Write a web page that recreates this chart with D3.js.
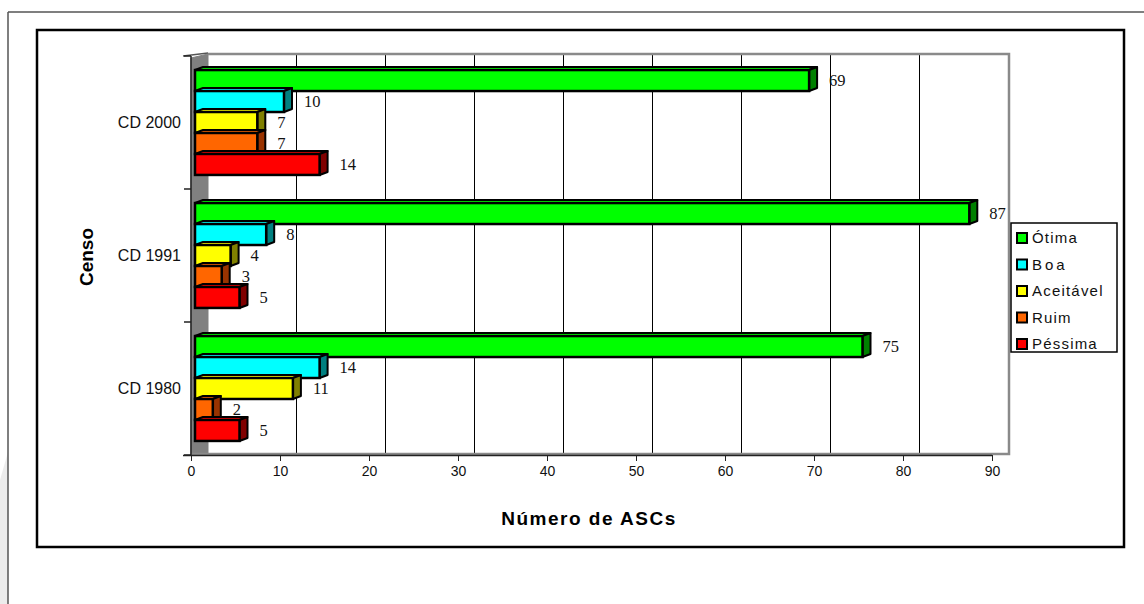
<!DOCTYPE html>
<html>
<head>
<meta charset="utf-8">
<script src="https://cdn.jsdelivr.net/npm/d3@7"></script>
<style>
html,body{margin:0;padding:0;background:#fff;}
svg{display:block;}
</style>
</head>
<body>
<svg id="chart" width="1144" height="604"></svg>
<script>
// ---- data ----
const categories = ["CD 2000", "CD 1991", "CD 1980"];
const seriesNames = ["Ótima", "Boa", "Aceitável", "Ruim", "Péssima"];
const otima    = [69, 87, 75];
const boa      = [10, 8, 14];
const aceitavel= [7, 4, 11];
const ruim     = [7, 3, 2];
const pessima  = [14, 5, 5];
const xTicks = [0,10,20,30,40,50,60,70,80,90];
const xTitle = "Número de ASCs";
const yTitle = "Censo";

const seriesValues = [otima, boa, aceitavel, ruim, pessima];
const frontColors = ["#00FF00","#00FFFF","#FFFF00","#FF6600","#FF0000"];
const sideColors  = ["#008000","#008080","#808000","#993300","#800000"];

const svg = d3.select("#chart");
const sans = "'Liberation Sans', Arial, sans-serif";
const serif = "'Liberation Serif', 'Times New Roman', serif";

// outer page frame
svg.append("polygon").attr("points","0,480 8,452 8,604 0,604").attr("fill","#ececec");
svg.append("line").attr("x1",8).attr("y1",12).attr("x2",1144).attr("y2",12).attr("stroke","#555").attr("stroke-width",1.5);
svg.append("line").attr("x1",8).attr("y1",12).attr("x2",8).attr("y2",604).attr("stroke","#555").attr("stroke-width",1.5);

// chart frame
svg.append("rect").attr("x",37).attr("y",30).attr("width",1087).attr("height",517)
  .attr("fill","#fff").attr("stroke","#000").attr("stroke-width",2.5);

const x = d3.scaleLinear().domain([0,90]).range([191,992]);
const y = d3.scaleBand().domain(categories).range([56,455]);
const ys = d3.scaleBand().domain(seriesNames).range([0,y.bandwidth()]).paddingOuter(0.67).paddingInner(0);

const wallDX = 17, wallTop = 54, wallBottom = 454;
const frontShift = 4;
const dX = 8, dY = -3;

// side wall (left)
svg.append("polygon")
  .attr("points",`${x(0)},${wallTop+4} ${x(0)+wallDX},${wallTop} ${x(0)+wallDX},${wallBottom} ${x(0)},${wallBottom+1}`)
  .attr("fill","#808080").attr("stroke","#808080");

// gridlines on back wall
svg.append("g").selectAll("line").data(xTicks.filter(t=>t>0 && t<90)).join("line")
  .attr("x1",d=>Math.round(x(d)+wallDX)-0.5).attr("x2",d=>Math.round(x(d)+wallDX)-0.5)
  .attr("y1",wallTop).attr("y2",wallBottom)
  .attr("stroke","#000").attr("stroke-width",1.2).attr("shape-rendering","crispEdges");

// back wall border
svg.append("path")
  .attr("d",`M${x(0)+wallDX},${wallTop} H${x(90)+wallDX} V${wallBottom} H${x(0)}`)
  .attr("fill","none").attr("stroke","#8a8a8a").attr("stroke-width",2.5);
svg.append("line").attr("x1",x(0)-8).attr("y1",wallTop+2).attr("x2",x(0)+wallDX).attr("y2",wallTop-1)
  .attr("stroke","#555").attr("stroke-width",1.5);

// x axis
const xAxis = d3.axisBottom(x).tickValues(xTicks).tickSize(6).tickSizeOuter(0);
const gx = svg.append("g").attr("transform",`translate(0,${wallBottom+1})`).call(xAxis);
gx.select(".domain").attr("stroke","#222").attr("stroke-width",1.5).attr("d",`M${x(0)-8},0.5H${x(90)}`);
gx.selectAll(".tick line").attr("stroke","#222");
gx.selectAll(".tick text").attr("font-family",sans).attr("font-size",14).attr("fill","#111").attr("dy","0.85em");

// y axis
const yTickVals = [56, 56+y.step(), 56+2*y.step(), 455];
const gy = svg.append("g");
gy.append("line").attr("x1",x(0)).attr("x2",x(0)).attr("y1",56).attr("y2",455).attr("stroke","#222").attr("stroke-width",1.5);
gy.selectAll("line.t").data(yTickVals).join("line").attr("class","t")
  .attr("x1",x(0)-7).attr("x2",x(0)).attr("y1",d=>d).attr("y2",d=>d).attr("stroke","#222").attr("stroke-width",1.5);
gy.selectAll("text").data(categories).join("text")
  .attr("x",x(0)-10).attr("y",d=>y(d)+y.bandwidth()/2).attr("dy","0.35em")
  .attr("text-anchor","end").attr("font-family",sans).attr("font-size",16).attr("fill","#111")
  .text(d=>d);

// bars
const bars = [];
categories.forEach((c,ci)=>{
  seriesNames.forEach((s,si)=>{
    bars.push({c, s, si, v: seriesValues[si][ci]});
  });
});
const bg = svg.append("g");
bars.forEach(b=>{
  const y0 = y(b.c) + ys(b.s);
  const h = ys.bandwidth();
  const x0 = x(0) + frontShift;
  const x1 = x(b.v) + frontShift;
  const g = bg.append("g");
  // top face
  g.append("polygon")
    .attr("points",`${x0},${y0} ${x0+dX},${y0+dY} ${x1+dX},${y0+dY} ${x1},${y0}`)
    .attr("fill",frontColors[b.si]).attr("stroke","#000").attr("stroke-width",2).attr("stroke-linejoin","round");
  // side face
  g.append("polygon")
    .attr("points",`${x1},${y0} ${x1+dX},${y0+dY} ${x1+dX},${y0+h+dY} ${x1},${y0+h}`)
    .attr("fill",sideColors[b.si]).attr("stroke","#000").attr("stroke-width",2).attr("stroke-linejoin","round");
  // front face
  g.append("rect").attr("x",x0).attr("y",y0).attr("width",x1-x0).attr("height",h)
    .attr("fill",frontColors[b.si]).attr("stroke","#000").attr("stroke-width",2.5);
  // value label
  svg.append("text")
    .attr("x",x1+dX+12).attr("y",y0+h/2).attr("dy","0.35em")
    .attr("font-family",serif).attr("font-size",16.5).attr("fill","#111")
    .text(b.v);
});

// axis titles
svg.append("text").attr("x",589).attr("y",525).attr("text-anchor","middle")
  .attr("font-family",sans).attr("font-weight","bold").attr("font-size",19).attr("letter-spacing","1.5px")
  .text(xTitle);
svg.append("text").attr("transform","translate(93,257) rotate(-90)").attr("text-anchor","middle")
  .attr("font-family",sans).attr("font-weight","bold").attr("font-size",19)
  .text(yTitle);

// legend
const lg = svg.append("g");
lg.append("rect").attr("x",1011).attr("y",223).attr("width",106).attr("height",129)
  .attr("fill","#fff").attr("stroke","#000").attr("stroke-width",1.5);
const ly = d3.scalePoint().domain(seriesNames).range([238,344]);
lg.selectAll("rect.k").data(seriesNames).join("rect").attr("class","k")
  .attr("x",1017).attr("y",d=>ly(d)-5).attr("width",10).attr("height",10)
  .attr("fill",(d,i)=>frontColors[i]).attr("stroke","#000").attr("stroke-width",2);
lg.selectAll("text").data(seriesNames).join("text")
  .attr("x",1032).attr("y",d=>ly(d)).attr("dy","0.36em")
  .attr("font-family",sans).attr("font-size",15).attr("fill","#111")
  .attr("letter-spacing",(d,i)=>i===1?"3px":"1.2px")
  .text(d=>d);
</script>
</body>
</html>
